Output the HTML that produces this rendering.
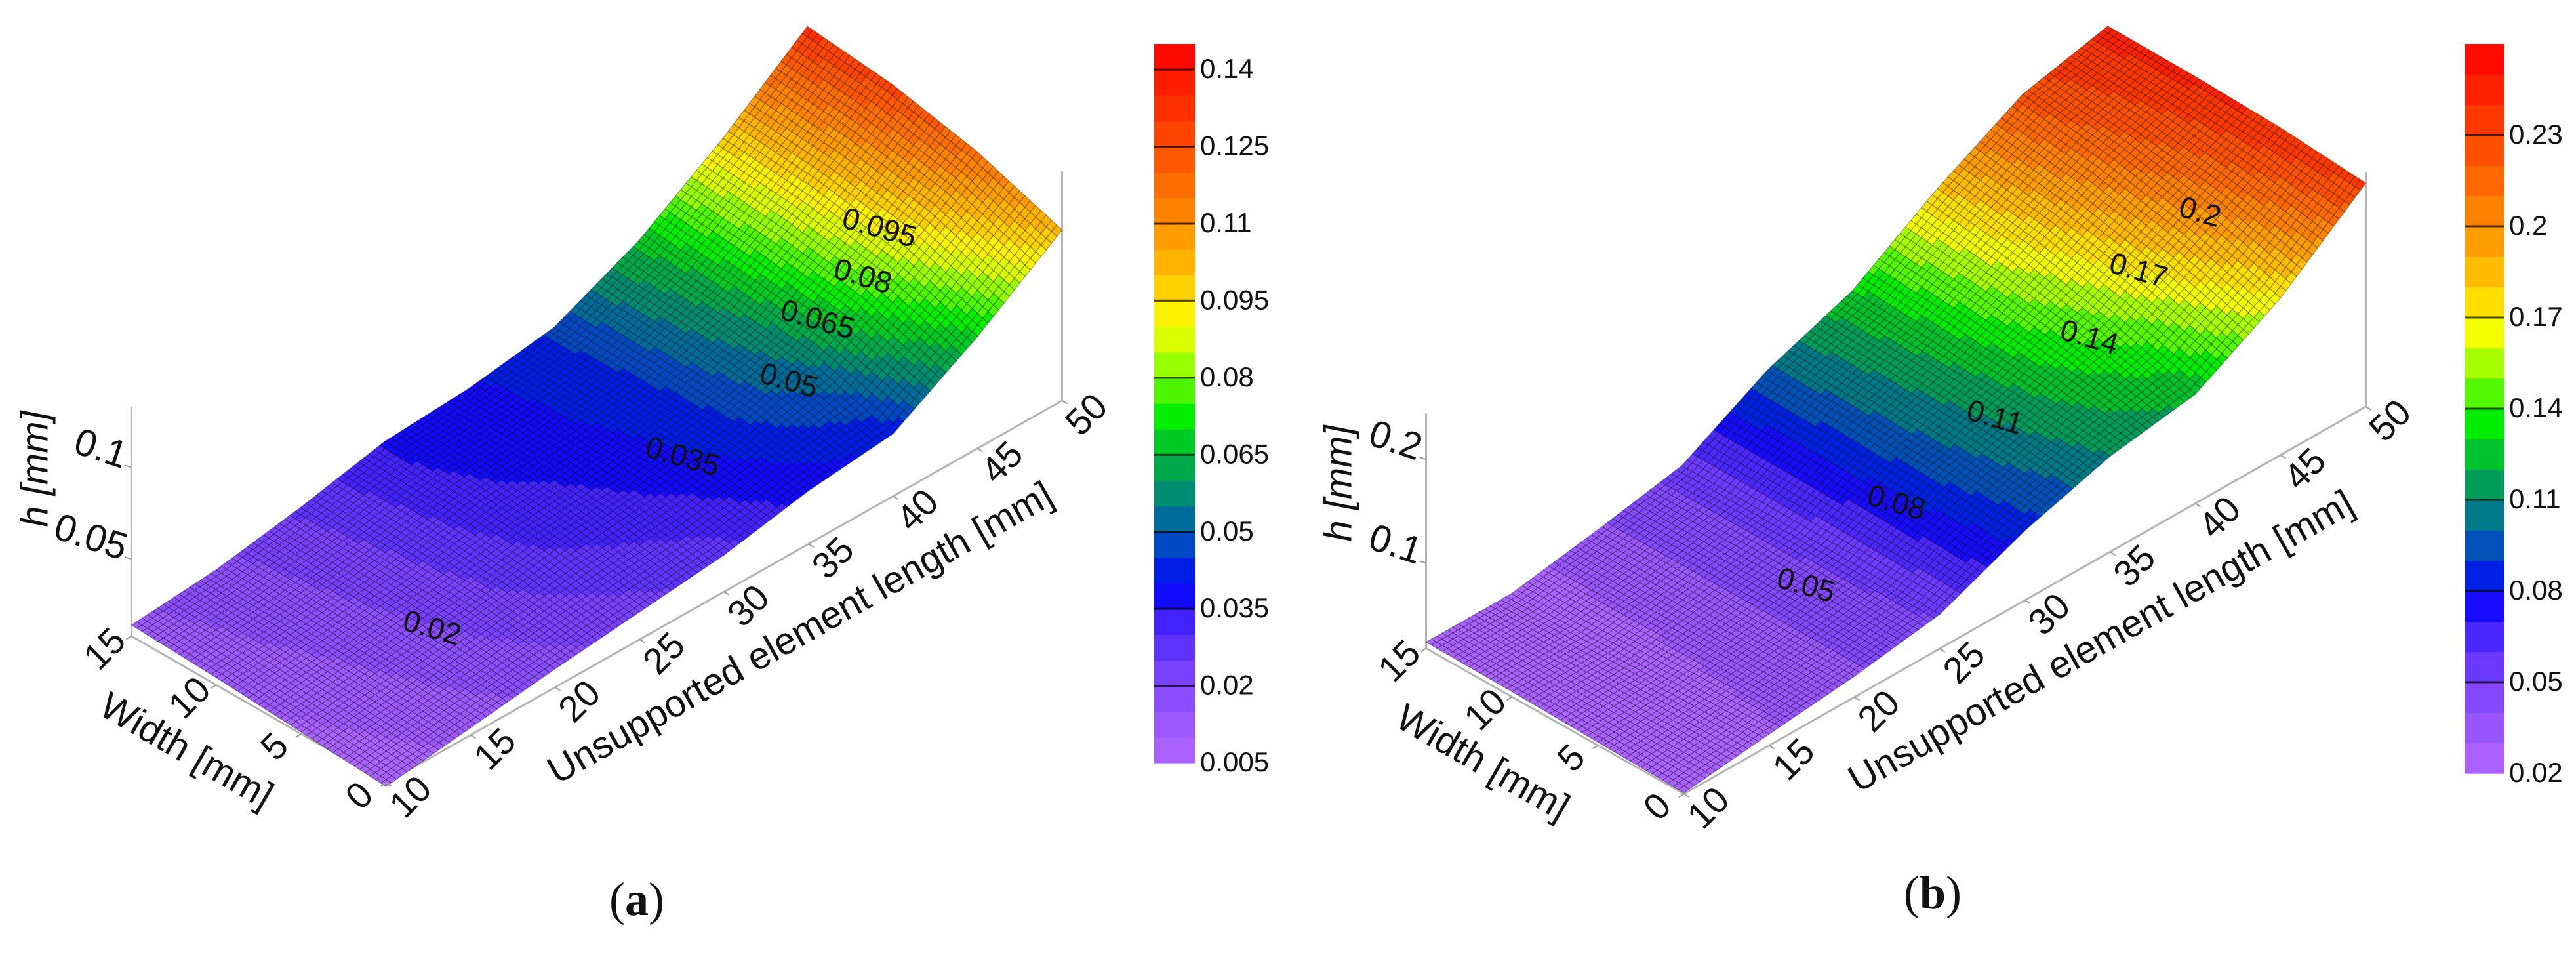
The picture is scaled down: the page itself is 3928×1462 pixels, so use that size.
<!DOCTYPE html>
<html><head><meta charset="utf-8"><title>Surface plots</title>
<style>
html,body{margin:0;padding:0;background:#fff;}
svg{display:block;}
text{font-family:"Liberation Sans",sans-serif;fill:#111;}
</style></head>
<body>
<svg id="fig" xmlns="http://www.w3.org/2000/svg" width="3928" height="1462" viewBox="0 0 3928 1462">
<rect width="3928" height="1462" fill="#fff"/>
<g id="panelA"></g>
<g id="panelB"></g>
<text x="971" y="1395" font-size="72" text-anchor="middle" style="font-family:'Liberation Serif',serif">(<tspan font-weight="bold">a</tspan>)</text>
<text x="2947" y="1385" font-size="72" text-anchor="middle" style="font-family:'Liberation Serif',serif">(<tspan font-weight="bold">b</tspan>)</text>
</svg>
<script>
// ---- data ----
const lengths = [10,15,20,25,30,35,40,45,50];
const widths = [0,5,10,15];
const hA_w0  = [0.006,0.012,0.018,0.023,0.028,0.037,0.042,0.069,0.101];
const hA_w5  = [0.009,0.015,0.022,0.030,0.035,0.043,0.056,0.085,0.117];
const hA_w10 = [0.012,0.017,0.024,0.034,0.038,0.045,0.062,0.093,0.127];
const hA_w15 = [0.014,0.018,0.026,0.036,0.039,0.046,0.067,0.097,0.132];
const hB_w0  = [0.019,0.029,0.038,0.051,0.085,0.110,0.123,0.169,0.233];
const hB_w5  = [0.021,0.027,0.038,0.053,0.092,0.118,0.148,0.195,0.240];
const hB_w10 = [0.023,0.025,0.038,0.054,0.096,0.124,0.168,0.213,0.243];
const hB_w15 = [0.024,0.024,0.038,0.054,0.099,0.129,0.181,0.225,0.244];
const lengthTicks = [10,15,20,25,30,35,40,45,50];
const widthTicks = [0,5,10,15];
const zTicksA = [0.05,0.1];
const zTicksB = [0.1,0.2];
const cbarLabelsA = ["0.005","0.02","0.035","0.05","0.065","0.08","0.095","0.11","0.125","0.14"];
const cbarLabelsB = ["0.02","0.05","0.08","0.11","0.14","0.17","0.2","0.23"];
const contourA = ["0.095","0.08","0.065","0.05","0.035","0.02"];
const contourB = ["0.2","0.17","0.14","0.11","0.08","0.05"];

const NS="http://www.w3.org/2000/svg";
function mk(tag,attrs,parent){const e=document.createElementNS(NS,tag);for(const k in attrs)e.setAttribute(k,attrs[k]);if(parent)parent.appendChild(e);return e;}

const stops=[[0,[178,102,255]],[0.07,[150,84,255]],[0.14,[112,60,255]],[0.2,[64,32,255]],[0.245,[0,0,255]],[0.3,[0,70,200]],[0.36,[0,128,128]],[0.42,[0,176,64]],[0.48,[0,238,0]],[0.55,[144,255,0]],[0.61,[255,255,0]],[0.68,[255,192,0]],[0.76,[255,136,0]],[0.88,[255,64,0]],[1,[255,0,0]]];
function cmap(t){t=Math.max(0,Math.min(1,t));for(let i=1;i<stops.length;i++){if(t<=stops[i][0]){const a=stops[i-1],b=stops[i];const f=(t-a[0])/(b[0]-a[0]);const c=a[1].map((v,j)=>Math.round(v+(b[1][j]-v)*f));return `rgb(${c[0]},${c[1]},${c[2]})`;}}return "rgb(255,0,0)";}

function panel(cfg){
  const g=document.getElementById(cfg.id);
  const P=(W,L,z)=>[cfg.O[0]+(L-10)*cfg.Lv[0]+W*cfg.Wv[0], cfg.O[1]+(L-10)*cfg.Lv[1]+W*cfg.Wv[1]-(z-cfg.zmin)*cfg.Zs];
  const nb=Math.round((cfg.vmax-cfg.vmin)/cfg.step);
  const bandColor=v=>{let i=Math.floor((v-cfg.vmin)/cfg.step);i=Math.max(0,Math.min(nb-1,i));return cmap((i+0.5)/nb);};
  const rows=cfg.rows;
  const H=(W,L)=>{
    let wi=Math.min(widths.length-2,Math.max(0,Math.floor(W/5)));let li=Math.min(lengths.length-2,Math.max(0,Math.floor((L-10)/5)));
    const fw=(W-widths[wi])/5, fl=(L-lengths[li])/5;
    const a=rows[wi][li],b=rows[wi][li+1],c=rows[wi+1][li],d=rows[wi+1][li+1];
    return (a*(1-fl)+b*fl)*(1-fw)+(c*(1-fl)+d*fl)*fw;};
  const ax=mk('g',{},g);
  
  const line=(p,q,name)=>{const l=mk('line',{x1:p[0],y1:p[1],x2:q[0],y2:q[1],stroke:'#b4b4b4','stroke-width':3},ax);};
  line(P(0,10,cfg.zmin),P(0,50,cfg.zmin),'length-axis-line');
  line(P(0,10,cfg.zmin),P(15,10,cfg.zmin),'width-axis-line');
  line(P(15,10,cfg.zmin),P(15,10,cfg.zmax),'h-axis-line');
  line(P(0,50,cfg.zmin),P(0,50,cfg.zmax),'back-vertical-line');
  const sg=mk('g',{},g);
  
  const n=16, cells=[];
  for(let wi=0;wi<3*n;wi++)for(let li=0;li<8*n;li++){
    cells.push([wi*5/n,(wi+1)*5/n,10+li*5/n,10+(li+1)*5/n]);}
  cells.sort((a,b)=>(b[2]+b[0])-(a[2]+a[0]));
  for(const c of cells){
    const [W0,W1,L0,L1]=c;
    const pts=[P(W0,L0,H(W0,L0)),P(W0,L1,H(W0,L1)),P(W1,L1,H(W1,L1)),P(W1,L0,H(W1,L0))];
    const v=H((W0+W1)/2,(L0+L1)/2);
    const p=mk('polygon',{points:pts.map(q=>q[0].toFixed(1)+','+q[1].toFixed(1)).join(' '),fill:bandColor(v),stroke:'rgba(0,0,0,0.38)','stroke-width':1.1},sg);
    
    
  }
  const tk=mk('g',{},g);
  
  lengthTicks.forEach(L=>{const p=P(0,L,cfg.zmin);
    mk('line',{x1:p[0],y1:p[1],x2:p[0]+8,y2:p[1]+5,stroke:'#999','stroke-width':2},tk);
    const x=p[0]+40,y=p[1]+24;
    const t=mk('text',{x:x,y:y,'font-size':56,'text-anchor':'middle','dominant-baseline':'middle',transform:`rotate(-45 ${x} ${y})`},tk);t.textContent=L;
    });
  widthTicks.forEach(W=>{const p=P(W,10,cfg.zmin);
    mk('line',{x1:p[0],y1:p[1],x2:p[0]-8,y2:p[1]+5,stroke:'#999','stroke-width':2},tk);
    const x=p[0]-38,y=p[1]+22;
    const t=mk('text',{x:x,y:y,'font-size':56,'text-anchor':'middle','dominant-baseline':'middle',transform:`rotate(-45 ${x} ${y})`},tk);t.textContent=W;
    });
  cfg.zt.forEach(z=>{const p=P(15,10,z);
    mk('line',{x1:p[0],y1:p[1],x2:p[0]-10,y2:p[1]-3,stroke:'#999','stroke-width':2},tk);
    const x=p[0]-14,y=p[1]+2;
    const t=mk('text',{x:x,y:y,'font-size':58,'text-anchor':'end',transform:`rotate(18 ${x} ${y})`},tk);t.textContent=String(z);
    });
  const pl=P(0,30,cfg.zmin);const lx=pl[0]+118,ly=pl[1]+66;
  let t=mk('text',{x:lx,y:ly,'font-size':58,'text-anchor':'middle','dominant-baseline':'middle',transform:`rotate(-29.5 ${lx} ${ly})`},g);t.textContent='Unsupported element length [mm]';
  
  const pw=P(7.5,10,cfg.zmin);const wx=pw[0]-112,wy=pw[1]+66;
  t=mk('text',{x:wx,y:wy,'font-size':58,'text-anchor':'middle','dominant-baseline':'middle',transform:`rotate(30 ${wx} ${wy})`},g);t.textContent='Width [mm]';
  
  t=mk('text',{x:cfg.hx,y:cfg.hy,'font-size':58,'font-style':'italic','text-anchor':'middle','dominant-baseline':'middle',transform:`rotate(-90 ${cfg.hx} ${cfg.hy})`},g);
  t.textContent='h [mm]';
  
  cfg.clabels.forEach((s,i)=>{const q=cfg.cpos[i];
    const c=mk('text',{x:q[0],y:q[1],'font-size':46,'text-anchor':'middle','dominant-baseline':'middle',transform:`rotate(16 ${q[0]} ${q[1]})`},g);c.textContent=s;
    });
  const cb=mk('g',{},g);
  
  const bh=(cfg.cb.y1-cfg.cb.y0)/nb;
  for(let i=0;i<nb;i++){
    const r=mk('rect',{x:cfg.cb.x0,y:(cfg.cb.y1-(i+1)*bh).toFixed(1),width:cfg.cb.x1-cfg.cb.x0,height:(bh+0.6).toFixed(1),fill:cmap((i+0.5)/nb)},cb);
    }
  cfg.cbl.forEach(s=>{const v=parseFloat(s);const y=cfg.cb.y1-(v-cfg.vmin)/(cfg.vmax-cfg.vmin)*(cfg.cb.y1-cfg.cb.y0);
    if(v>cfg.vmin+1e-9)mk('line',{x1:cfg.cb.x0,y1:y,x2:cfg.cb.x1,y2:y,stroke:'rgba(0,0,0,0.7)','stroke-width':3},cb);
    const l=mk('text',{x:cfg.cb.x1+8,y:y+2,'font-size':42,'dominant-baseline':'middle',fill:'#333'},cb);l.textContent=s;
    });
}

panel({id:'panelA',O:[588.7,1193.5],Lv:[25.77,-14.57],Wv:[-25.89,-14.92],Zs:2797,zmin:0.008,zmax:0.133,
  rows:[hA_w0,hA_w5,hA_w10,hA_w15],vmin:0.005,vmax:0.145,step:0.005,zt:zTicksA,hx:57,hy:715,
  clabels:contourA,cpos:[[1340,350],[1315,424],[1246,490],[1202,583],[1040,699],[658,960]],
  cb:{x0:1760,x1:1822,y0:67,y1:1163},cbl:cbarLabelsA});
panel({id:'panelB',O:[2567.8,1210.3],Lv:[25.99,-14.76],Wv:[-26.22,-14.79],Zs:1585,zmin:0.018,zmax:0.244,
  rows:[hB_w0,hB_w5,hB_w10,hB_w15],vmin:0.02,vmax:0.26,step:0.01,zt:zTicksB,hx:2045,hy:737,
  clabels:contourB,cpos:[[3354,326],[3260,415],[3185,517],[3041,639],[2891,769],[2753,895]],
  cb:{x0:3758,x1:3818,y0:67,y1:1179},cbl:cbarLabelsB});
</script>
</body></html>
